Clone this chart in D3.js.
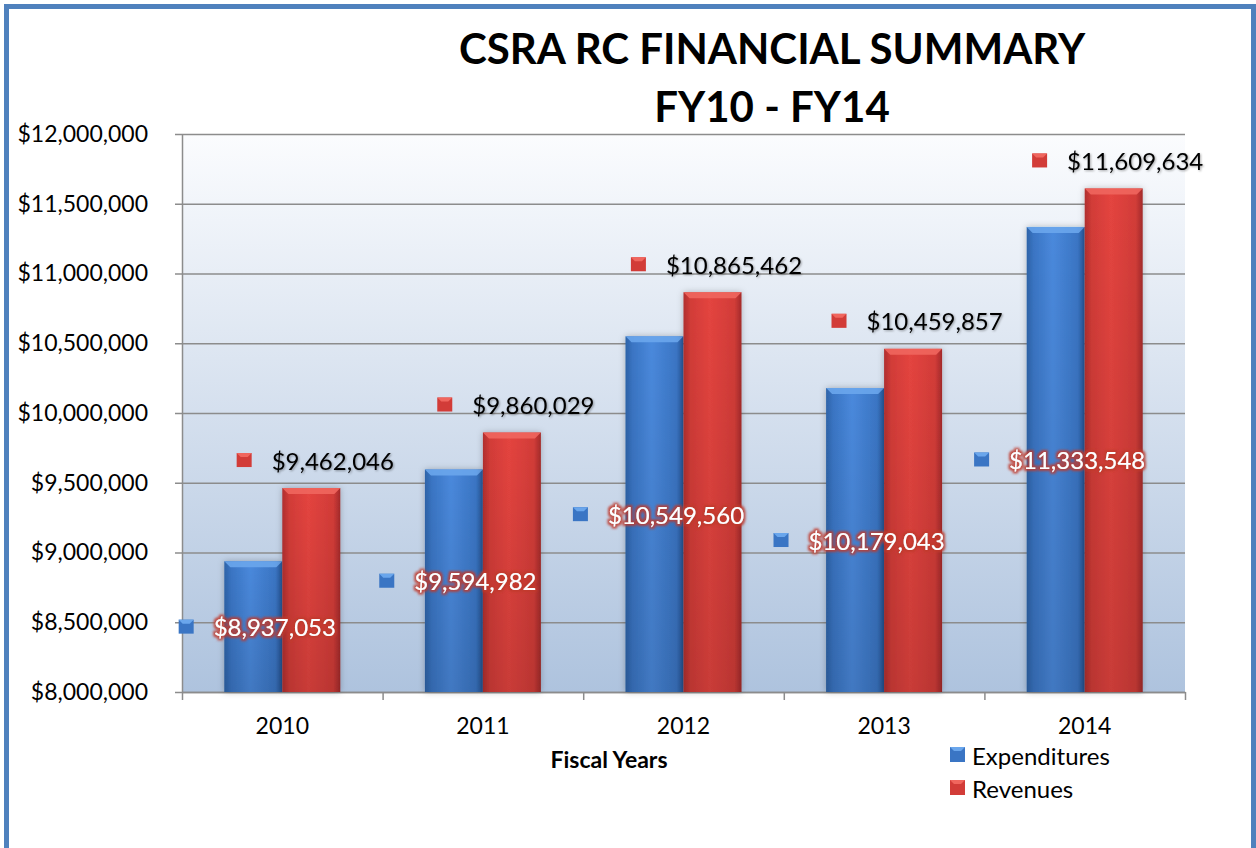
<!DOCTYPE html>
<html>
<head>
<meta charset="utf-8">
<script src="https://cdn.jsdelivr.net/npm/d3@7"></script>
<style>
  body { margin: 0; background: #fff; }
  svg { display: block; font-family: Lato, "Liberation Sans", sans-serif; }
</style>
</head>
<body>
<svg id="chart" width="1256" height="848"></svg>
<script>
// data
var years = ['2010', '2011', '2012', '2013', '2014'];
var expenditures = [8937053, 9594982, 10549560, 10179043, 11333548];
var revenues = [9462046, 9860029, 10865462, 10459857, 11609634];
var seriesNames = ['Expenditures', 'Revenues'];
var yTicks = [8000000, 8500000, 9000000, 9500000, 10000000, 10500000, 11000000, 11500000, 12000000];

var svg = d3.select('#chart');
var defs = svg.append('defs');

// frame
svg.append('rect')
  .attr('x', 6.5).attr('y', 6.5)
  .attr('width', 1247).attr('height', 860)
  .attr('fill', 'none').attr('stroke', '#4f81bd').attr('stroke-width', 5);

var margin = {top: 134, left: 182},
  width = 1003,
  height = 558;

var x = d3.scaleBand().domain(years).range([0, width]);
var bw = 58;
var xs = d3.scaleBand().domain(seriesNames)
  .range([x.bandwidth() / 2 - bw, x.bandwidth() / 2 + bw]);
var y = d3.scaleLinear().domain([8000000, 12000000]).range([height, 0]);

// gradients
var bg = defs.append('linearGradient').attr('id', 'plotbg')
  .attr('x1', 0).attr('y1', 0).attr('x2', 0).attr('y2', 1);
bg.append('stop').attr('offset', '0%').attr('stop-color', '#fbfcfe');
bg.append('stop').attr('offset', '100%').attr('stop-color', '#aec3de');

var palette = {
  Expenditures: ['#2d63a8', '#4a89dc', '#3a75c4', '#28589a'],
  Revenues: ['#b02e2e', '#e4443f', '#d23c38', '#a32a2a']
};
seriesNames.forEach(function(s) {
  var g = defs.append('linearGradient').attr('id', 'grad-' + s)
    .attr('x1', 0).attr('y1', 0).attr('x2', 1).attr('y2', 0);
  g.append('stop').attr('offset', '0%').attr('stop-color', palette[s][0]);
  g.append('stop').attr('offset', '12%').attr('stop-color', palette[s][2]);
  g.append('stop').attr('offset', '45%').attr('stop-color', palette[s][1]);
  g.append('stop').attr('offset', '88%').attr('stop-color', palette[s][2]);
  g.append('stop').attr('offset', '100%').attr('stop-color', palette[s][3]);
  var v = defs.append('linearGradient').attr('id', 'shade-' + s)
    .attr('x1', 0).attr('y1', 0).attr('x2', 0).attr('y2', 1);
  v.append('stop').attr('offset', '0%').attr('stop-color', '#000').attr('stop-opacity', 0);
  v.append('stop').attr('offset', '100%').attr('stop-color', '#000').attr('stop-opacity', 0.12);
});

var glow = defs.append('filter').attr('id', 'redglow')
  .attr('x', '-10%').attr('y', '-30%').attr('width', '120%').attr('height', '160%');
glow.append('feMorphology').attr('in', 'SourceAlpha').attr('operator', 'dilate').attr('radius', 1.6).attr('result', 'd');
glow.append('feGaussianBlur').attr('in', 'd').attr('stdDeviation', 1.2).attr('result', 'b');
glow.append('feFlood').attr('flood-color', '#c0392b').attr('flood-opacity', 0.85);
glow.append('feComposite').attr('in2', 'b').attr('operator', 'in').attr('result', 'g');
var gm = glow.append('feMerge');
gm.append('feMergeNode').attr('in', 'g');
gm.append('feMergeNode').attr('in', 'SourceGraphic');

var shadow = defs.append('filter').attr('id', 'txtshadow')
  .attr('x', '-10%').attr('y', '-30%').attr('width', '120%').attr('height', '160%');
shadow.append('feDropShadow').attr('dx', 1).attr('dy', 1).attr('stdDeviation', 1)
  .attr('flood-color', '#000').attr('flood-opacity', 0.35);

var barshadow = defs.append('filter').attr('id', 'barshadow')
  .attr('x', '-20%').attr('y', '-10%').attr('width', '140%').attr('height', '120%');
barshadow.append('feDropShadow').attr('dx', 0).attr('dy', 0).attr('stdDeviation', 3)
  .attr('flood-color', '#000').attr('flood-opacity', 0.25);

// title
svg.append('text').attr('x', 772).attr('y', 64).attr('text-anchor', 'middle')
  .attr('font-size', 42).attr('font-weight', 'bold').attr('fill', '#000')
  .text('CSRA RC FINANCIAL SUMMARY');
svg.append('text').attr('x', 772).attr('y', 122).attr('text-anchor', 'middle')
  .attr('font-size', 42).attr('font-weight', 'bold').attr('fill', '#000')
  .text('FY10 - FY14');

var container = svg.append('g')
  .attr('transform', 'translate(' + margin.left + ',' + margin.top + ')');

container.append('rect')
  .attr('width', width).attr('height', height)
  .attr('fill', 'url(#plotbg)');

// gridlines
container.append('g').selectAll('line')
  .data(yTicks).enter().append('line')
  .attr('x1', -7).attr('x2', width)
  .attr('y1', function(d) { return y(d) + 0.5; })
  .attr('y2', function(d) { return y(d) + 0.5; })
  .attr('stroke', '#8c8c8c').attr('stroke-width', 1.5);

// y axis
var yAxis = d3.axisLeft(y).tickValues(yTicks).tickSize(0).tickPadding(34)
  .tickFormat(function(d) { return '$' + d3.format(',')(d); });
var ya = container.append('g').attr('class', 'y axis').call(yAxis);
ya.select('.domain').remove();
ya.selectAll('text').attr('font-size', 23).attr('fill', '#000')
  .attr('font-family', 'Lato, "Liberation Sans", sans-serif');
container.append('line').attr('x1', 0.5).attr('x2', 0.5).attr('y1', 0).attr('y2', height)
  .attr('stroke', '#8c8c8c').attr('stroke-width', 1.5);

// x axis
var xAxis = d3.axisBottom(x).tickSize(0).tickPadding(26);
var xa = container.append('g').attr('class', 'x axis')
  .attr('transform', 'translate(0,' + height + ')').call(xAxis);
xa.select('.domain').attr('stroke', '#8c8c8c').attr('stroke-width', 1.5);
xa.selectAll('text').attr('font-size', 23).attr('fill', '#000')
  .attr('font-family', 'Lato, "Liberation Sans", sans-serif');
container.append('g').selectAll('line')
  .data(years.concat(['end'])).enter().append('line')
  .attr('x1', function(d, i) { return i * x.step() + 0.5; })
  .attr('x2', function(d, i) { return i * x.step() + 0.5; })
  .attr('y1', height).attr('y2', height + 8)
  .attr('stroke', '#8c8c8c').attr('stroke-width', 1.5);

// bars
var rows = years.map(function(yr, i) {
  return [{year: yr, s: 'Expenditures', v: expenditures[i]},
          {year: yr, s: 'Revenues', v: revenues[i]}];
});
var flat = [].concat.apply([], rows);

var bars = container.append('g').selectAll('.bar')
  .data(flat).enter().append('g').attr('class', 'bar')
  .attr('transform', function(d) { return 'translate(' + (x(d.year) + xs(d.s)) + ',0)'; });

bars.append('rect')
  .attr('y', function(d) { return y(d.v); })
  .attr('width', xs.bandwidth())
  .attr('height', function(d) { return height - y(d.v); })
  .attr('fill', function(d) { return 'url(#grad-' + d.s + ')'; })
  .attr('filter', 'url(#barshadow)');
bars.append('rect')
  .attr('y', function(d) { return y(d.v); })
  .attr('width', xs.bandwidth())
  .attr('height', function(d) { return height - y(d.v); })
  .attr('fill', function(d) { return 'url(#shade-' + d.s + ')'; });
// top bevel
bars.append('path')
  .attr('d', function(d) {
    var t = y(d.v), w = xs.bandwidth();
    return 'M0,' + t + 'L' + w + ',' + t + 'L' + (w - 6) + ',' + (t + 6) + 'L6,' + (t + 6) + 'Z';
  })
  .attr('fill', function(d) { return d.s === 'Expenditures' ? '#6aa6ec' : '#f0665e'; })
  .attr('opacity', 0.9);

// data labels
function money(v) { return '$' + d3.format(',')(v); }
var labels = container.append('g').selectAll('.lbl')
  .data(flat).enter().append('g').attr('class', 'lbl');

labels.each(function(d) {
  var g = d3.select(this);
  var cx = x(d.year) + xs(d.s) + xs.bandwidth() / 2;
  var cy = d.s === 'Expenditures' ? (y(d.v) + height) / 2 : y(d.v) - 28;
  var t = g.append('text')
    .attr('font-size', 24)
    .attr('dominant-baseline', 'central')
    .attr('y', cy)
    .text(money(d.v));
  if (d.s === 'Expenditures') {
    t.attr('fill', '#fff').attr('filter', 'url(#redglow)');
  } else {
    t.attr('fill', '#000').attr('filter', 'url(#txtshadow)');
  }
  var tw = t.node().getComputedTextLength();
  var total = 15 + 20 + tw;
  var left = cx - total / 2 + 4;
  g.append('rect')
    .attr('x', left).attr('y', cy - 7)
    .attr('width', 15).attr('height', 14)
    .attr('fill', palette[d.s][2]);
  g.append('path')
    .attr('d', 'M' + left + ',' + (cy - 7) + 'h15l-4,4h-7z')
    .attr('fill', d.s === 'Expenditures' ? '#6aa6ec' : '#f0665e');
  t.attr('x', left + 15 + 20);
});

// axis title
svg.append('text').attr('x', 609).attr('y', 768).attr('text-anchor', 'middle')
  .attr('font-size', 23).attr('font-weight', 'bold').text('Fiscal Years');

// legend
var legend = svg.append('g').selectAll('.leg')
  .data(seriesNames).enter().append('g').attr('class', 'leg')
  .attr('transform', function(d, i) { return 'translate(950,' + (747 + i * 33) + ')'; });
legend.append('rect').attr('width', 15).attr('height', 15)
  .attr('fill', function(d) { return palette[d][2]; });
legend.append('path').attr('d', 'M0,0h15l-4,4h-7z')
  .attr('fill', function(d) { return d === 'Expenditures' ? '#6aa6ec' : '#f0665e'; });
legend.append('text').attr('x', 22).attr('y', 8)
  .attr('dominant-baseline', 'central').attr('font-size', 24)
  .text(function(d) { return d; });
</script>
</body>
</html>
